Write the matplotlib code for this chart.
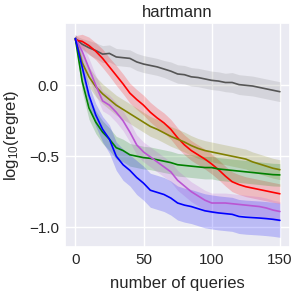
import numpy as np
import matplotlib
matplotlib.use("Agg")
import matplotlib.pyplot as plt
import seaborn as sns

# Queries sampled every 5 steps.
queries = list(range(0, 151, 5))

# Mean log10 regret per method.
gray_mean = [0.33, 0.29, 0.265, 0.245, 0.22, 0.225, 0.20, 0.195, 0.19, 0.165, 0.15,
             0.14, 0.13, 0.115, 0.10, 0.08, 0.075, 0.06, 0.055, 0.045, 0.035,
             0.03, 0.02, 0.02, 0.005, 0.0, -0.005, -0.015, -0.025, -0.035, -0.045]
red_mean = [0.32, 0.31, 0.28, 0.24, 0.19, 0.13, 0.07, 0.01, -0.055, -0.10, -0.14,
            -0.19, -0.23, -0.265, -0.31, -0.37, -0.42, -0.46, -0.49, -0.52, -0.555,
            -0.595, -0.64, -0.68, -0.70, -0.715, -0.725, -0.735, -0.745, -0.755, -0.765]
olive_mean = [0.33, 0.16, 0.06, -0.01, -0.06, -0.10, -0.14, -0.17, -0.20, -0.23, -0.26,
              -0.29, -0.31, -0.335, -0.36, -0.38, -0.40, -0.425, -0.445, -0.46, -0.47,
              -0.48, -0.49, -0.50, -0.51, -0.52, -0.54, -0.555, -0.57, -0.585, -0.595]
green_mean = [0.33, 0.03, -0.16, -0.26, -0.33, -0.38, -0.44, -0.46, -0.49, -0.50, -0.51,
              -0.515, -0.525, -0.535, -0.545, -0.56, -0.565, -0.57, -0.575, -0.58, -0.58,
              -0.59, -0.595, -0.60, -0.605, -0.61, -0.615, -0.62, -0.625, -0.63, -0.632]
purple_mean = [0.33, 0.24, 0.12, 0.0, -0.11, -0.14, -0.19, -0.25, -0.33, -0.42, -0.47,
               -0.505, -0.54, -0.575, -0.61, -0.67, -0.71, -0.75, -0.78, -0.81, -0.83,
               -0.83, -0.83, -0.835, -0.84, -0.845, -0.85, -0.855, -0.865, -0.88, -0.89]
blue_mean = [0.33, 0.13, -0.07, -0.21, -0.31, -0.38, -0.50, -0.56, -0.60, -0.65, -0.69,
             -0.74, -0.755, -0.77, -0.795, -0.83, -0.845, -0.855, -0.87, -0.885, -0.893,
             -0.90, -0.905, -0.91, -0.925, -0.93, -0.933, -0.936, -0.94, -0.945, -0.952]

# Half width of the shaded band around each mean.
gray_err = [0.02, 0.04, 0.05, 0.055, 0.06, 0.06, 0.06, 0.06, 0.06, 0.06, 0.06,
            0.06, 0.06, 0.06, 0.065, 0.065, 0.065, 0.065, 0.065, 0.065, 0.065,
            0.065, 0.065, 0.07, 0.07, 0.07, 0.07, 0.07, 0.07, 0.07, 0.07]
red_err = [0.03, 0.05, 0.06, 0.06, 0.065, 0.065, 0.07, 0.07, 0.07, 0.07, 0.07,
           0.07, 0.07, 0.07, 0.07, 0.07, 0.07, 0.07, 0.07, 0.07, 0.07,
           0.07, 0.07, 0.07, 0.07, 0.07, 0.07, 0.07, 0.07, 0.07, 0.07]
olive_err = [0.03, 0.06, 0.07, 0.07, 0.07, 0.07, 0.07, 0.07, 0.07, 0.07, 0.07,
             0.07, 0.07, 0.07, 0.07, 0.07, 0.07, 0.07, 0.07, 0.07, 0.07,
             0.07, 0.07, 0.07, 0.07, 0.07, 0.07, 0.07, 0.07, 0.07, 0.07]
green_err = [0.03, 0.07, 0.08, 0.08, 0.08, 0.08, 0.08, 0.08, 0.08, 0.08, 0.08,
             0.08, 0.08, 0.08, 0.08, 0.08, 0.08, 0.08, 0.08, 0.08, 0.08,
             0.08, 0.08, 0.08, 0.08, 0.08, 0.08, 0.08, 0.08, 0.08, 0.08]
purple_err = [0.03, 0.06, 0.07, 0.07, 0.07, 0.07, 0.07, 0.07, 0.07, 0.07, 0.07,
              0.07, 0.07, 0.07, 0.07, 0.07, 0.07, 0.07, 0.07, 0.07, 0.07,
              0.07, 0.07, 0.07, 0.07, 0.07, 0.07, 0.07, 0.07, 0.07, 0.07]
blue_err = [0.03, 0.06, 0.07, 0.08, 0.09, 0.10, 0.10, 0.11, 0.11, 0.12, 0.12,
            0.12, 0.12, 0.12, 0.12, 0.12, 0.12, 0.12, 0.12, 0.12, 0.12,
            0.12, 0.12, 0.12, 0.12, 0.12, 0.12, 0.12, 0.12, 0.12, 0.12]

series = [
    (gray_mean, gray_err, "#555555", "gray"),
    (red_mean, red_err, "red", "red"),
    (olive_mean, olive_err, "olive", "olive"),
    (green_mean, green_err, "green", "green"),
    (purple_mean, purple_err, "mediumorchid", "mediumorchid"),
    (blue_mean, blue_err, "blue", "blue"),
]

sns.set_theme()
plt.rcParams["font.family"] = ["Liberation Sans", "DejaVu Sans"]
plt.rcParams["mathtext.fontset"] = "custom"
plt.rcParams["mathtext.rm"] = "Liberation Sans"
plt.rcParams["mathtext.it"] = "Liberation Sans:italic"

fig = plt.figure(figsize=(3.0, 2.94), dpi=100)
ax = fig.add_axes([0.217, 0.160, 0.750, 0.762])

x = np.array(queries)
for mean, err, line_color, band_color in series:
    mean = np.array(mean)
    err = np.array(err)
    ax.fill_between(x, mean - err, mean + err, color=band_color, alpha=0.2, linewidth=0)
    ax.plot(x, mean, color=line_color, linewidth=1.2)

ax.set_xlim(-7.5, 157.5)
ax.set_ylim(-1.14, 0.44)
ax.set_xticks([0, 50, 100, 150])
ax.set_yticks([-1.0, -0.5, 0.0])
ax.tick_params(axis="x", length=0, pad=4)
ax.tick_params(axis="y", length=0, pad=4.5)
ax.set_title("hartmann", pad=4)
ax.set_xlabel("number of queries", labelpad=7)
ax.set_ylabel(r"$\mathrm{log_{10}}$(regret)")
ax.yaxis.set_label_coords(-0.195, 0.5)

fig.savefig("out.png", dpi=100)
